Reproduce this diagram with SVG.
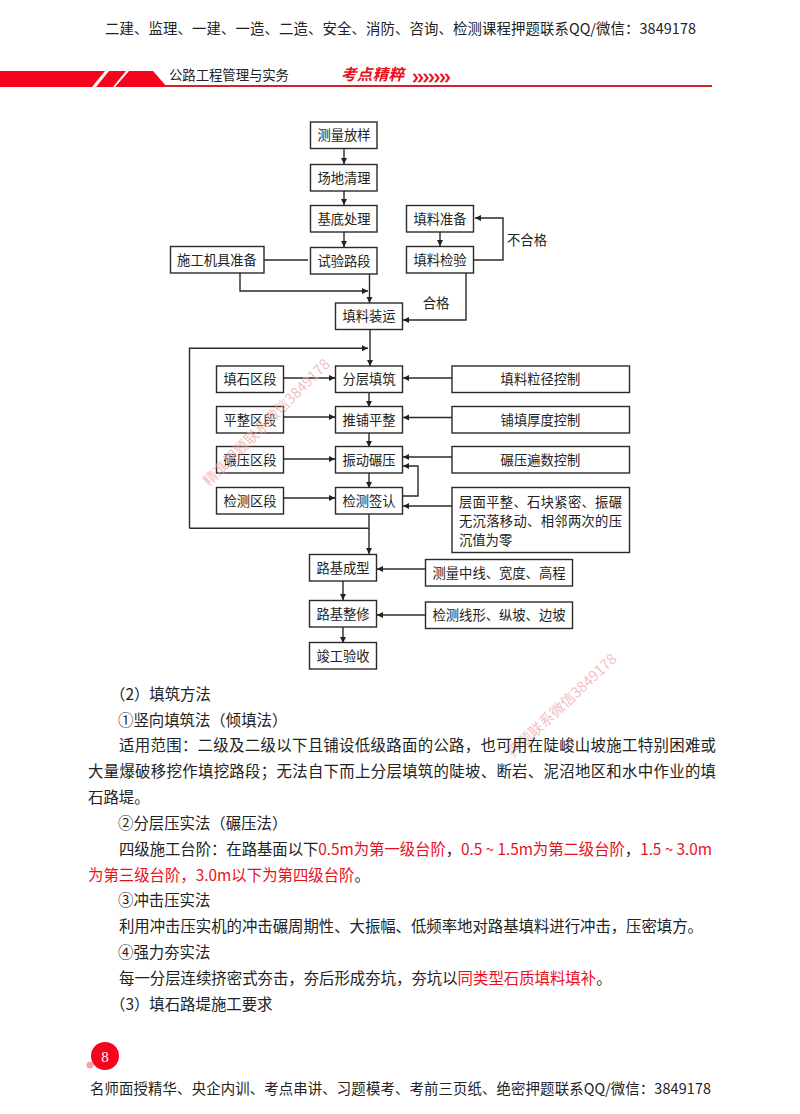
<svg xmlns="http://www.w3.org/2000/svg" width="800" height="1114" viewBox="0 0 800 1114">
<style>
text{font-family:"Noto Sans CJK SC","Liberation Sans",sans-serif;fill:#222}
.n{font-size:13.3px;text-anchor:middle;dominant-baseline:central;transform:translateY(-1px)}
.b{font-size:15.4px}
.r{fill:#e8101c}
.h{font-size:14.4px}
.box{fill:#fff;stroke:#2a2a2a;stroke-width:1.4}
.c{fill:none;stroke:#2a2a2a;stroke-width:1.4}
.a{marker-end:url(#ah)}
.w{font-size:14.5px;fill:#f0a8a8;fill-opacity:.75}
</style>
<defs><marker id="ah" markerUnits="userSpaceOnUse" markerWidth="7" markerHeight="7" refX="6" refY="3" orient="auto"><path d="M0 0L6 3L0 6Z" fill="#222"/></marker></defs>
<rect width="800" height="1114" fill="#fff"/>
<g id="header">
<text class="h" x="105" y="34" textLength="591">二建、监理、一建、一造、二造、安全、消防、咨询、检测课程押题联系QQ/微信：3849178</text>
<path d="M0 71H105L92 87H0Z M109 71H126L113 87H96Z M129 71H153L167 87H115Z" fill="#f5051c"/>
<rect x="165" y="85" width="547" height="2" fill="#d8202c"/>
<text x="169" y="80" font-size="13.4" textLength="120">公路工程管理与实务</text>
<text x="341" y="80" font-size="15.5" font-weight="700" font-style="italic" class="r" textLength="63">考点精粹</text>
<path id="chev" d="M413 74l3 4-3 4h2l3-4-3-4zM418 74l3 4-3 4h2l3-4-3-4zM423.500 74l3 4-3 4h2l3-4-3-4zM429 74l3 4-3 4h2l3-4-3-4zM434.500 74l3 4-3 4h2l3-4-3-4zM440 74l3 4-3 4h2l3-4-3-4zM445 74l3 4-3 4h2l3-4-3-4z" fill="#e8101c" stroke="#e8101c" stroke-width=".6"/>
</g>
<g id="connectors">
<path class="c a" d="M344 149V164"/>
<path class="c a" d="M344 191V205"/>
<path class="c a" d="M344 232V247"/>
<path class="c" d="M264 260H308"/>
<path class="c a" d="M369.500 274V303"/>
<path class="c a" d="M240 273V291H368"/>
<path class="c a" d="M440 232V246"/>
<path class="c a" d="M474 260H503V218H475"/>
<path class="c a" d="M466 273V320H403"/>
<path class="c a" d="M370 329V366"/>
<path class="c a" d="M189.500 528.300V348.300H368"/>
<path class="c" d="M189.500 528.300H369"/>
<path class="c a" d="M283 378H335"/>
<path class="c a" d="M283 417H335"/>
<path class="c a" d="M283 459H335"/>
<path class="c a" d="M283 498H335"/>
<path class="c a" d="M452 378H403"/>
<path class="c a" d="M452 417.500H403"/>
<path class="c a" d="M452 457H403"/>
<path class="c a" d="M452 506H403"/>
<path class="c a" d="M369 393V407"/>
<path class="c a" d="M369 433V447"/>
<path class="c a" d="M369 473V488"/>
<path class="c a" d="M402 496H418V466H403"/>
<path class="c a" d="M369 514V554"/>
<path class="c a" d="M343 581V600"/>
<path class="c a" d="M343 627V643"/>
<path class="c a" d="M425 569H377"/>
<path class="c a" d="M425 615H377"/>
</g>
<g id="n1"><rect class="box" x="310.500" y="122" width="66.500" height="26.500"/><text class="n" x="344" y="135.500">测量放样</text></g>
<g id="n2"><rect class="box" x="310.500" y="164.500" width="66.500" height="26.500"/><text class="n" x="344" y="178">场地清理</text></g>
<g id="n3"><rect class="box" x="310.500" y="205.500" width="66.500" height="26.500"/><text class="n" x="344" y="219">基底处理</text></g>
<g id="n4"><rect class="box" x="310.500" y="247.500" width="66.500" height="26.500"/><text class="n" x="344" y="261">试验路段</text></g>
<g id="n5"><rect class="box" x="170.500" y="246.500" width="93.500" height="26.500"/><text class="n" x="217" y="260">施工机具准备</text></g>
<g id="n6"><rect class="box" x="406.500" y="205.500" width="67" height="26.500"/><text class="n" x="440" y="219">填料准备</text></g>
<g id="n7"><rect class="box" x="406.500" y="246.500" width="67" height="26.500"/><text class="n" x="440" y="260">填料检验</text></g>
<g id="n8"><rect class="box" x="335.500" y="303" width="67" height="26.500"/><text class="n" x="369" y="316.500">填料装运</text></g>
<g id="n9"><rect class="box" x="216.500" y="366" width="67" height="26.500"/><text class="n" x="250" y="379.500">填石区段</text></g>
<g id="n10"><rect class="box" x="216.500" y="406.500" width="67" height="26.500"/><text class="n" x="250" y="420">平整区段</text></g>
<g id="n11"><rect class="box" x="216.500" y="446.500" width="67" height="26.500"/><text class="n" x="250" y="460">碾压区段</text></g>
<g id="n12"><rect class="box" x="216.500" y="487.500" width="67" height="26.500"/><text class="n" x="250" y="501">检测区段</text></g>
<g id="n13"><rect class="box" x="335.500" y="366" width="67" height="26.500"/><text class="n" x="369" y="379.500">分层填筑</text></g>
<g id="n14"><rect class="box" x="335.500" y="406.500" width="67" height="26.500"/><text class="n" x="369" y="420">推铺平整</text></g>
<g id="n15"><rect class="box" x="335.500" y="446.500" width="67" height="26.500"/><text class="n" x="369" y="460">振动碾压</text></g>
<g id="n16"><rect class="box" x="335.500" y="487.500" width="67" height="26.500"/><text class="n" x="369" y="501">检测签认</text></g>
<g id="n17"><rect class="box" x="452" y="366" width="177.500" height="26.500"/><text class="n" x="540.500" y="379.500">填料粒径控制</text></g>
<g id="n18"><rect class="box" x="452" y="406.500" width="177.500" height="26.500"/><text class="n" x="540.500" y="420">铺填厚度控制</text></g>
<g id="n19"><rect class="box" x="452" y="446.500" width="177.500" height="26.500"/><text class="n" x="540.500" y="460">碾压遍数控制</text></g>
<g id="n20"><rect class="box" x="452" y="487.500" width="177.500" height="65"/>
<text class="n" style="text-anchor:start" x="459" y="502" textLength="163">层面平整、石块紧密、振碾</text>
<text class="n" style="text-anchor:start" x="459" y="521" textLength="163">无沉落移动、相邻两次的压</text>
<text class="n" style="text-anchor:start" x="459" y="540">沉值为零</text></g>
<g id="n21"><rect class="box" x="309.500" y="554.500" width="67" height="26.500"/><text class="n" x="343" y="568">路基成型</text></g>
<g id="n22"><rect class="box" x="309.500" y="600.500" width="67" height="26.500"/><text class="n" x="343" y="614">路基整修</text></g>
<g id="n23"><rect class="box" x="309.500" y="642.500" width="67" height="26.500"/><text class="n" x="343" y="656">竣工验收</text></g>
<g id="n24"><rect class="box" x="425.500" y="559.500" width="147" height="26.500"/><text class="n" x="499" y="573">测量中线、宽度、高程</text></g>
<g id="n25"><rect class="box" x="425.500" y="602" width="147" height="26.500"/><text class="n" x="499" y="615.500">检测线形、纵坡、边坡</text></g>
<g id="labels">
<text class="n" x="527" y="240">不合格</text>
<text class="n" x="436" y="303">合格</text>
</g>
<g id="watermarks">
<text class="w" transform="translate(209 487) rotate(-45)">精准押题联系微信3849178</text>
<text class="w" transform="translate(513 758) rotate(-43)">押题联系微信3849178</text>
</g>
<g id="body">
<text class="b" x="110" y="700">（2）填筑方法</text>
<text class="b" x="118" y="726">①竖向填筑法（倾填法）</text>
<text class="b" x="119" y="751" textLength="597">适用范围：二级及二级以下且铺设低级路面的公路，也可用在陡峻山坡施工特别困难或</text>
<text class="b" x="88" y="777" textLength="628">大量爆破移挖作填挖路段；无法自下而上分层填筑的陡坡、断岩、泥沼地区和水中作业的填</text>
<text class="b" x="88" y="803">石路堤。</text>
<text class="b" x="118" y="829">②分层压实法（碾压法）</text>
<text class="b" x="119" y="855" textLength="593">四级施工台阶：在路基面以下<tspan class="r">0.5m为第一级台阶</tspan>，<tspan class="r">0.5 ~ 1.5m为第二级台阶</tspan>，<tspan class="r">1.5 ~ 3.0m</tspan></text>
<text class="b r" x="88" y="881">为第三级台阶，3.0m以下为第四级台阶<tspan style="fill:#222">。</tspan></text>
<text class="b" x="118" y="906">③冲击压实法</text>
<text class="b" x="119" y="932" textLength="584">利用冲击压实机的冲击碾周期性、大振幅、低频率地对路基填料进行冲击，压密填方。</text>
<text class="b" x="118" y="958">④强力夯实法</text>
<text class="b" x="119" y="984">每一分层连续挤密式夯击，夯后形成夯坑，夯坑以<tspan class="r">同类型石质填料填补</tspan>。</text>
<text class="b" x="110" y="1010">（3）填石路堤施工要求</text>
</g>
<g id="footer">
<circle cx="90" cy="1065" r="3.500" fill="#f9a0a8"/>
<circle cx="105" cy="1056" r="14" fill="#f5051c"/>
<text x="105" y="1062" font-size="15" text-anchor="middle" style="font-family:'Liberation Serif',serif;fill:#fff">8</text>
<text class="h" x="90" y="1094" textLength="621">名师面授精华、央企内训、考点串讲、习题模考、考前三页纸、绝密押题联系QQ/微信：3849178</text>
</g>
</svg>
